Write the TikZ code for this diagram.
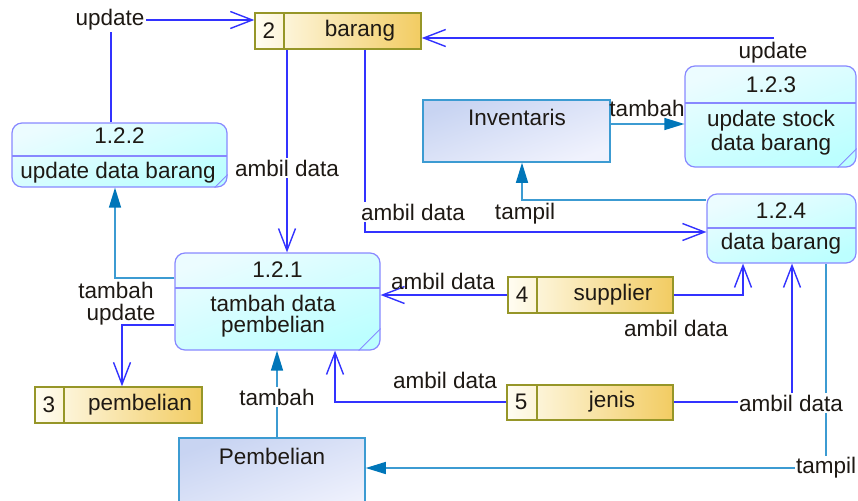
\documentclass[tikz,border=0pt]{standalone}
\usepackage{fontspec}
\setmainfont{Liberation Sans}
\usetikzlibrary{arrows.meta,calc}

\definecolor{procB}{RGB}{136,136,255}
\definecolor{procT}{RGB}{236,252,255}
\definecolor{procBo}{RGB}{188,255,255}
\definecolor{storeB}{RGB}{150,150,40}
\definecolor{storeL}{RGB}{255,253,242}
\definecolor{storeR}{RGB}{242,204,98}
\definecolor{extB}{RGB}{60,155,210}
\definecolor{extT}{RGB}{200,212,242}
\definecolor{extBo}{RGB}{240,242,253}
\definecolor{flowC}{RGB}{50,50,255}
\definecolor{sflowC}{RGB}{60,155,210}
\definecolor{tipC}{RGB}{0,118,185}
\definecolor{txt}{RGB}{30,25,20}

\tikzset{
  proc/.style={draw=procB, line width=1.2pt, rounded corners=10pt,
    top color=procT, bottom color=procBo, shading angle=20, inner sep=0pt},
  procline/.style={draw=procB, line width=1.2pt},
  store/.style={draw=storeB, line width=1.5pt, left color=storeL,
    right color=storeR, inner sep=0pt},
  storeline/.style={draw=storeB, line width=1.5pt},
  ext/.style={draw=extB, line width=1.5pt, top color=extT,
    bottom color=extBo, shading angle=20, inner sep=0pt},
  flow/.style={draw=flowC, line width=1.4pt,
    -{Straight Barb[length=22pt,width=17pt,line width=1.4pt]}},
  sflow/.style={draw=sflowC, line width=1.4pt,
    -{Triangle[length=20pt,width=12pt,color=tipC]}},
  plainflow/.style={draw=flowC, line width=1.4pt},
  txtnode/.style={text=txt, inner sep=0pt, align=center},
  lbl/.style={text=txt, fill=white, inner sep=1.5pt, align=center},
  lblnf/.style={text=txt, inner sep=0pt, align=center},
}

\begin{document}
\begin{tikzpicture}[x=1pt, y=-1pt, font=\fontsize{22.5}{24}\selectfont]
\useasboundingbox (0,0) rectangle (858,500);
\clip (0,0) rectangle (858,500);

% ---- processes ----
\node[proc, minimum width=215pt, minimum height=64pt] (p122) at (119.5,155) {};
\draw[procline] (12,156) -- (227,156);
\draw[procline, line width=0.8pt] ($(p122.south east)+(-13,0)$) -- ($(p122.south east)+(0,-13)$);
\node[txtnode] at (119.5,136) {1.2.2};
\node[txtnode] at (118,173) {update data barang};

\node[proc, minimum width=205pt, minimum height=97pt] (p121) at (277.5,301.5) {};
\draw[procline] (175,288) -- (380,288);
\draw[procline, line width=0.8pt] ($(p121.south east)+(-22,0)$) -- ($(p121.south east)+(0,-22)$);
\node[txtnode] at (277.5,270) {1.2.1};
\node[txtnode] at (273,303) {tambah data};
\node[txtnode] at (273,327) {pembelian};

\node[proc, minimum width=171pt, minimum height=101pt] (p123) at (770.5,116.5) {};
\draw[procline] (685,103) -- (856,103);
\draw[procline, line width=0.8pt] ($(p123.south east)+(-19,0)$) -- ($(p123.south east)+(0,-19)$);
\node[txtnode] at (771,85) {1.2.3};
\node[txtnode] at (771,121) {update stock};
\node[txtnode] at (771,145) {data barang};

\node[proc, minimum width=149pt, minimum height=69pt] (p124) at (781.5,228.5) {};
\draw[procline] (707,228) -- (856,228);
\node[txtnode] at (781,211) {1.2.4};
\node[txtnode] at (781,244) {data barang};

% ---- data stores ----
\node[store, minimum width=166pt, minimum height=36pt] (s2) at (338,31) {};
\draw[storeline] (284,13) -- (284,49);
\node[txtnode] at (269,31) {2};
\node[txtnode] at (360,31) {barang};

\node[store, minimum width=167pt, minimum height=36pt] (s3) at (118.5,405) {};
\draw[storeline] (64,387) -- (64,423);
\node[txtnode] at (49,405) {3};
\node[txtnode] at (140,405) {pembelian};

\node[store, minimum width=165pt, minimum height=36pt] (s4) at (590.5,295) {};
\draw[storeline] (537,277) -- (537,313);
\node[txtnode] at (522,295) {4};
\node[txtnode] at (613,295) {supplier};

\node[store, minimum width=166pt, minimum height=35pt] (s5) at (590,402.5) {};
\draw[storeline] (537,385) -- (537,420);
\node[txtnode] at (521,402) {5};
\node[txtnode] at (612,402) {jenis};

% ---- external entities ----
\node[ext, minimum width=187pt, minimum height=62pt] (inv) at (516.5,131) {};
\node[txtnode] at (517,117) {Inventaris};

\node[ext, minimum width=186pt, minimum height=80pt] (pemb) at (272,478) {};
\node[txtnode] at (272,456) {Pembelian};

% ---- connection points ----
\coordinate (k1) at (111,20);
\coordinate (k2) at (774,38);
\coordinate (k3) at (287,0);
\coordinate (k4) at (365,232);
\coordinate (k5) at (0,124);
\coordinate (k6) at (522,200);
\coordinate (k7) at (115,278);
\coordinate (k8) at (122,325);
\coordinate (k9) at (277,0);
\coordinate (k10) at (335,402);
\coordinate (k11) at (0,295);
\coordinate (k12) at (743,295);
\coordinate (k13) at (792,402);
\coordinate (k14) at (826,468);

% ---- data flows ----
\draw[plainflow] (p122.north -| k1) -- (k1);
\draw[flow] (k1) -- (s2.west |- k1);
\draw[flow] (k2) -- (s2.east |- k2);
\draw[flow] (s2.south -| k3) -- (p121.north -| k3);
\draw[flow] (s2.south -| k4) |- (p124.west |- k4);
\draw[sflow] (inv.east |- k5) -- (p123.west |- k5);
\draw[sflow] (p124.west |- k6) -| (inv.south -| k6);
\draw[sflow] (p121.west |- k7) -| (p122.south -| k7);
\draw[flow] (p121.west |- k8) -| (s3.north -| k8);
\draw[sflow] (pemb.north -| k9) -- (p121.south -| k9);
\draw[flow] (s5.west |- k10) -| (p121.south -| k10);
\draw[flow] (s4.west |- k11) -- (p121.east |- k11);
\draw[flow] (s4.east |- k12) -| (p124.south -| k12);
\draw[flow] (s5.east |- k13) -| (p124.south -| k13);
\draw[sflow] (p124.south -| k14) |- (pemb.east |- k14);

% ---- flow labels ----
\node[lbl] (l1) at (110,20) {update};
\node[lbl] (l2) at (773,53) {update};
\node[lbl] (l3) at (287,168) {ambil data};
\node[lbl] (l4) at (413,212) {ambil data};
\node[lblnf] (l5) at (647,108) {tambah};
\node[lblnf] (l6) at (525,214) {tampil};
\node[lblnf] (l7) at (116,290) {tambah};
\node[lblnf] (l8) at (121,315) {update};
\node[lbl] (l9) at (277,397) {tambah};
\node[lblnf] (l10) at (445,380) {ambil data};
\node[lblnf] (l11) at (443,281) {ambil data};
\node[lblnf] (l12) at (676,328) {ambil data};
\node[lbl] (l13) at (791,403) {ambil data};
\node[lbl] (l14) at (826,468) {tampil};
\end{tikzpicture}
\end{document}
